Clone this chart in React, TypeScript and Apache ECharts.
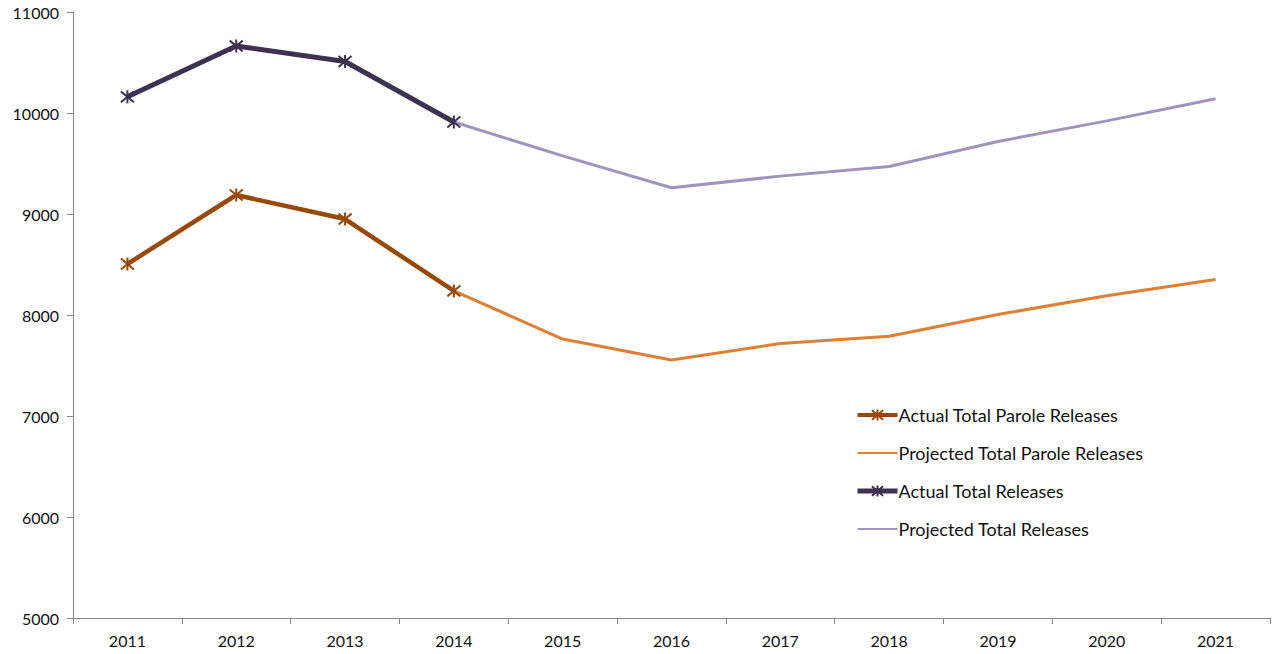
import React, { useEffect, useRef } from "react";
import * as echarts from "echarts";

const years = ["2011", "2012", "2013", "2014", "2015", "2016", "2017", "2018", "2019", "2020", "2021"];
const actualParole = [8505, 9188, 8950, 8238, null, null, null, null, null, null, null];
const projectedParole = [null, null, null, 8238, 7762, 7555, 7718, 7790, 8005, 8190, 8352];
const actualTotal = [10160, 10663, 10510, 9911, null, null, null, null, null, null, null];
const projectedTotal = [null, null, null, 9911, 9575, 9260, 9375, 9470, 9718, 9922, 10142];

const FONT = "Lato";
const STAR = "path://M0,0L10,10M10,0L0,10M5,-1L5,11";
const THIN = "path://M0,0H20V1H0Z";
const C_AP = "#984807";
const C_PP = "#DE7F33";
const C_AT = "#3F3151";
const C_PT = "#A093BD";

export default function App() {
  const ref = useRef<HTMLDivElement>(null);
  useEffect(() => {
    document.body.style.margin = "0";
    const chart = echarts.init(ref.current!, null, { renderer: "svg" });
    chart.setOption({
      animation: false,
      backgroundColor: "#ffffff",
      textStyle: { fontFamily: FONT },
      grid: { left: 73, right: 3, top: 12, bottom: 36, containLabel: false },
      legend: {
        orient: "vertical",
        left: 850,
        top: 401,
        itemWidth: 40,
        itemHeight: 14,
        itemGap: 20,
        textStyle: { fontFamily: FONT, fontSize: 18, color: "#111", padding: [0, 0, 0, -4] },
        data: [
          { name: "Actual Total Parole Releases", lineStyle: { width: 4, color: C_AP } },
          { name: "Projected Total Parole Releases", icon: THIN, itemStyle: { color: C_PP }, lineStyle: { width: 3, color: C_PP } },
          { name: "Actual Total Releases", lineStyle: { width: 5, color: C_AT } },
          { name: "Projected Total Releases", icon: THIN, itemStyle: { color: C_PT }, lineStyle: { width: 3, color: C_PT } },
        ],
      },
      xAxis: {
        type: "category",
        data: years,
        boundaryGap: true,
        axisLine: { lineStyle: { color: "#868686", width: 1 } },
        axisTick: { show: true, length: 6, interval: 0, lineStyle: { color: "#868686" } },
        axisLabel: { fontFamily: FONT, fontSize: 16, color: "#111", margin: 14 },
        splitLine: { show: false },
      },
      yAxis: {
        type: "value",
        min: 5000,
        max: 11000,
        interval: 1000,
        axisLine: { show: true, lineStyle: { color: "#868686", width: 1 } },
        axisTick: { show: true, length: 6, lineStyle: { color: "#868686" } },
        axisLabel: { fontFamily: FONT, fontSize: 16, color: "#111", margin: 14, formatter: (v: number) => String(v) },
        splitLine: { show: false },
      },
      series: [
        {
          name: "Projected Total Parole Releases",
          type: "line",
          data: projectedParole,
          showSymbol: false,
          symbol: "none",
          color: C_PP,
          lineStyle: { color: C_PP, width: 3 },
          z: 2,
        },
        {
          name: "Projected Total Releases",
          type: "line",
          data: projectedTotal,
          showSymbol: false,
          symbol: "none",
          color: C_PT,
          lineStyle: { color: C_PT, width: 3 },
          z: 2,
        },
        {
          name: "Actual Total Parole Releases",
          type: "line",
          data: actualParole,
          symbol: STAR,
          symbolSize: 13,
          color: C_AP,
          itemStyle: { color: C_AP, borderColor: C_AP, borderWidth: 2 },
          lineStyle: { color: C_AP, width: 4.5 },
          z: 3,
        },
        {
          name: "Actual Total Releases",
          type: "line",
          data: actualTotal,
          symbol: STAR,
          symbolSize: 13,
          color: C_AT,
          itemStyle: { color: C_AT, borderColor: C_AT, borderWidth: 2 },
          lineStyle: { color: C_AT, width: 5 },
          z: 3,
        },
      ],
    });
    return () => chart.dispose();
  }, []);
  return <div ref={ref} style={{ width: 1273, height: 654 }} />;
}
